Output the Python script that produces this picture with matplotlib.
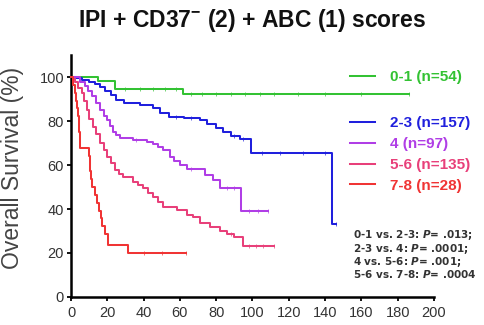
import numpy as np
import matplotlib
matplotlib.use("Agg")
import matplotlib.pyplot as plt

plt.rcParams['font.family'] = ['Liberation Sans', 'DejaVu Sans']
plt.rcParams['mathtext.fontset'] = 'custom'
plt.rcParams['mathtext.rm'] = 'Liberation Sans'
plt.rcParams['mathtext.bf'] = 'Liberation Sans:bold'
plt.rcParams['mathtext.it'] = 'DejaVu Sans:bold:italic'

# ---- data ----
labels = ["0-1 (n=54)", "2-3 (n=157)", "4 (n=97)", "5-6 (n=135)", "7-8 (n=28)"]
colors = ["#33c233", "#2020dd", "#b03ee6", "#e8407a", "#f03434"]

g_t = [0, 15, 24, 61.5, 186]
g_s = [100, 98.1, 94.4, 92.1, 92.1]
g_c = [30, 38, 45, 52, 58, 66, 72, 80, 88, 96, 104, 112, 125, 140, 160, 186]

b_t = [0, 3, 6, 10, 13, 16, 19, 22, 25, 29, 38, 45, 49, 54, 62, 71, 75, 80, 84,
       88, 93, 99, 144, 146]
b_s = [100, 99.4, 98.7, 97.9, 96.8, 95.6, 93.5, 91.8, 89.5, 88, 87.3, 85.8, 83.5,
       82, 81.2, 80.5, 78.5, 76.7, 75, 73, 72, 65.3, 33.2, 33.2]
b_c = [58, 66, 90, 95, 105, 115, 128, 140, 146]

p_t = [0, 5, 7.7, 9.5, 11.4, 13.5, 16, 18, 19.7, 21.5, 23.3, 25, 27, 34.3, 41.7,
       45.3, 48, 50.9, 54.5, 57, 60, 63.7, 74, 78, 82, 93.5, 108.5]
p_s = [100, 97.9, 96, 93.8, 91.5, 88, 85, 82.5, 80.5, 77.8, 75.2, 73.5, 72.1, 71.4,
       70.5, 69.5, 68, 66.8, 63.8, 61.8, 60, 58, 55.5, 53.2, 49.7, 39.2, 39.2]
p_c = [36, 66, 86, 90, 98, 103, 108.5]

k_t = [0, 1, 2.2, 4, 5.9, 7, 8.6, 10, 12.3, 14, 16, 18, 19.7, 22, 24.2, 26.5, 28.8,
       34.3, 37, 39.8, 42.5, 45.3, 48, 50.9, 58.2, 63.7, 67.3, 71, 76.6, 82, 86,
       90, 95, 112]
k_s = [100, 99.3, 97.9, 95, 92.6, 89, 85, 81, 77.4, 74, 69.9, 67, 63.8, 61, 57.7,
       56, 54.7, 52.4, 51, 49.4, 47.5, 45.6, 43, 41, 39.5, 37.3, 36.5, 33.5, 32,
       30, 28.5, 27.5, 23.0, 23.0]
k_c = [88, 98, 102, 106, 112]

r_t = [0, 1, 2, 3, 3.5, 4, 4.5, 5, 9.8, 10.3, 10.8, 11.5, 13, 14.5, 15.5, 16.3,
       17, 18.7, 20.6, 31.6, 63.5]
r_s = [100, 96.4, 92.9, 89.3, 85.7, 82.1, 75, 67.9, 64.3, 57.1, 53.6, 50, 46.4,
       42.9, 39.3, 35.7, 32.1, 28.6, 23.8, 20.0, 20.0]
r_c = [40, 50, 63.5]

series = [(g_t, g_s, g_c), (b_t, b_s, b_c), (p_t, p_s, p_c),
          (k_t, k_s, k_c), (r_t, r_s, r_c)]

pvals = ["0-1 vs. 2-3: $P$= .013;", "2-3 vs. 4: $P$= .0001;",
         "4 vs. 5-6: $P$= .001;", "5-6 vs. 7-8: $P$= .0004"]

x_ticks = list(range(0, 201, 20))
y_ticks = list(range(0, 101, 20))

# ---- figure ----
fig = plt.figure(figsize=(4.85, 3.25), dpi=100)
ax = fig.add_axes([71/485, 1-297/325, (434-71)/485, (297-55)/325])

handles = []
for (t, s, c), col, lab in zip(series, colors, labels):
    h, = ax.plot(t, s, drawstyle='steps-post', color=col, lw=1.45,
                 label=lab, clip_on=False, zorder=3)
    t_arr = np.asarray(t)
    idx = np.searchsorted(t_arr, np.asarray(c), side='right') - 1
    cy = np.asarray(s)[idx]
    ax.plot(c, cy, ls='none', marker='|', ms=2.5, mew=0.6, color=col,
            alpha=0.8, clip_on=False, zorder=3)
    handles.append(h)

ax.set_xlim(0, 200)
ax.set_ylim(0, 110)
ax.set_xticks(x_ticks)
ax.set_yticks(y_ticks)
for sp in ['top', 'right']:
    ax.spines[sp].set_visible(False)
for sp in ['left', 'bottom']:
    ax.spines[sp].set_linewidth(1.8)
ax.tick_params(axis='both', length=3, width=1.3, labelsize=10.5,
               labelcolor='#333333')
ax.tick_params(axis='x', pad=3.5)
ax.tick_params(axis='y', pad=2)

fig.text(13/485, 1-168/325, "Overall Survival (%)", rotation=90,
         ha='center', va='center', fontsize=16.5, color='#444444')

fig.text(252/485, 1-20/325, r"IPI + CD37$^{\mathbf{-}}$ (2) + ABC (1) scores",
         ha='center', va='center', fontsize=16.5, fontweight='bold', color='#111111')

prop = {'weight': 'bold', 'size': 11, 'family': 'Liberation Sans'}
leg1 = fig.legend(handles[:1], labels[:1], loc='center left',
                  bbox_to_anchor=(350/485, 1-77/325), frameon=False, prop=prop,
                  labelcolor='linecolor', handlelength=1.65, handletextpad=1.0,
                  borderpad=0, borderaxespad=0)
leg2 = fig.legend(handles[1:], labels[1:], loc='center left',
                  bbox_to_anchor=(350/485, 1-154.5/325), frameon=False, prop=prop,
                  labelcolor='linecolor', handlelength=1.65, handletextpad=1.0,
                  borderpad=0, borderaxespad=0, labelspacing=0.45)

fig.text(353/485, 1-228/325, "\n".join(pvals), ha='left', va='top',
         fontsize=7.5, fontweight='bold', family='DejaVu Sans', color='#333333',
         linespacing=0.95)

fig.savefig("out.png", dpi=100)
